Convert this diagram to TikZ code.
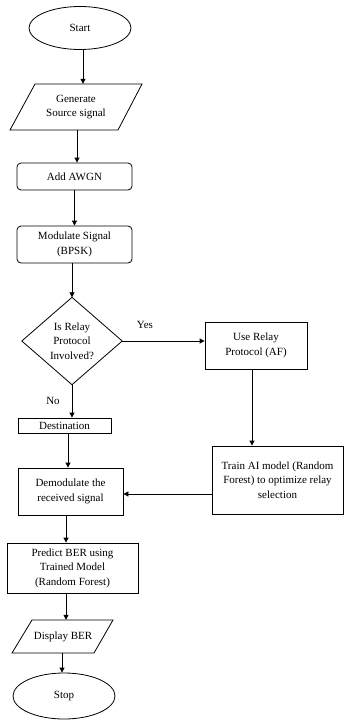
\documentclass[tikz,border=0pt]{standalone}
\usepackage{fontspec}
\setmainfont{Liberation Serif}
\usetikzlibrary{shapes.geometric,arrows.meta}
\begin{document}
\begin{tikzpicture}[x=1pt,y=-1pt,
  every node/.style={font=\fontsize{11}{14.5}\selectfont, align=center, inner sep=0pt},
  ln/.style={line width=0.8pt},
  arr/.style={ln, -{Triangle[width=5pt,length=5pt]}},
  oval/.style={ellipse, draw, ln},
  rbox/.style={draw, ln, rounded corners=4pt},
  sbox/.style={draw, ln},
  ghost/.style={draw=none}]
\useasboundingbox (0,0) rectangle (344,720);
\fill[white] (0,0) rectangle (344,720);

% nodes
\node[oval, minimum width=102pt, minimum height=43pt] (start) at (80,28) {Start};
\node[ghost, minimum width=80pt, minimum height=46pt] (gen) at (76,107) {Generate\\Source signal};
\draw[ln] (35,84) -- (142,84) -- (118,130) -- (10,130) -- cycle;
\node[rbox, minimum width=115pt, minimum height=27pt] (awgn) at (74.5,176.5) {Add AWGN};
\node[rbox, minimum width=115pt, minimum height=37pt] (mod) at (74.5,244.5) {Modulate Signal\\(BPSK)};
\node[ghost, minimum width=100pt, minimum height=87pt] (dec) at (72,341) {Is Relay\\Protocol\\Involved?};
\draw[ln] (dec.north) -- (dec.east) -- (dec.south) -- (dec.west) -- cycle;
\node[sbox, minimum width=102pt, minimum height=47pt] (relay) at (256,345.5) {Use Relay\\Protocol (AF)};
\node[sbox, minimum width=131pt, minimum height=68pt] (train) at (277.5,480) {Train AI model (Random\\Forest) to optimize relay\\selection};
\node[sbox, minimum width=93pt, minimum height=15pt] (dest) at (64.5,425.5) {Destination};
\node[sbox, minimum width=105pt, minimum height=47pt] (demod) at (70.5,491.5) {Demodulate the\\received signal};
\node[sbox, minimum width=131pt, minimum height=50pt] (pred) at (72.5,568) {Predict BER using\\Trained Model\\(Random Forest)};
\node[ghost, minimum width=70pt, minimum height=33pt] (disp) at (63,636.5) {Display BER};
\draw[ln] (32,620) -- (113,620) -- (94,653) -- (12,653) -- cycle;
\node[oval, minimum width=102pt, minimum height=46pt] (stop) at (64,696) {Stop};

% labels
\node (yes) at (145,325) {Yes};
\node (no) at (53,401) {No};

% connectors
\draw[arr] ([xshift=3pt]start.south) -- ([xshift=3pt]start.south |- gen.north);
\draw[arr] ([xshift=1pt]gen.south) -- ([xshift=1pt]gen.south |- awgn.north);
\draw[arr] (awgn.south) -- (mod.north);
\draw[arr] (dec.north |- mod.south) -- (dec.north);
\draw[arr] (dec.east) -- (dec.east -| relay.west);
\draw[arr] ([xshift=-4pt]relay.south) -- ([xshift=-4pt]relay.south |- train.north);
\draw[arr] ([yshift=-14pt]train.west) -- ([yshift=-14pt]train.west -| demod.east);
\draw[arr] (dec.south) -- (dec.south |- dest.north);
\draw[arr] ([xshift=3.5pt]dest.south) -- ([xshift=3.5pt]dest.south |- demod.north);
\draw[arr] ([xshift=-4.5pt]demod.south) -- ([xshift=-4.5pt]demod.south |- pred.north);
\draw[arr] ([xshift=-6.5pt]pred.south) -- ([xshift=-6.5pt]pred.south |- disp.north);
\draw[arr] ([xshift=-1pt]disp.south) -- ([xshift=-1pt]disp.south |- stop.north);
\end{tikzpicture}
\end{document}
